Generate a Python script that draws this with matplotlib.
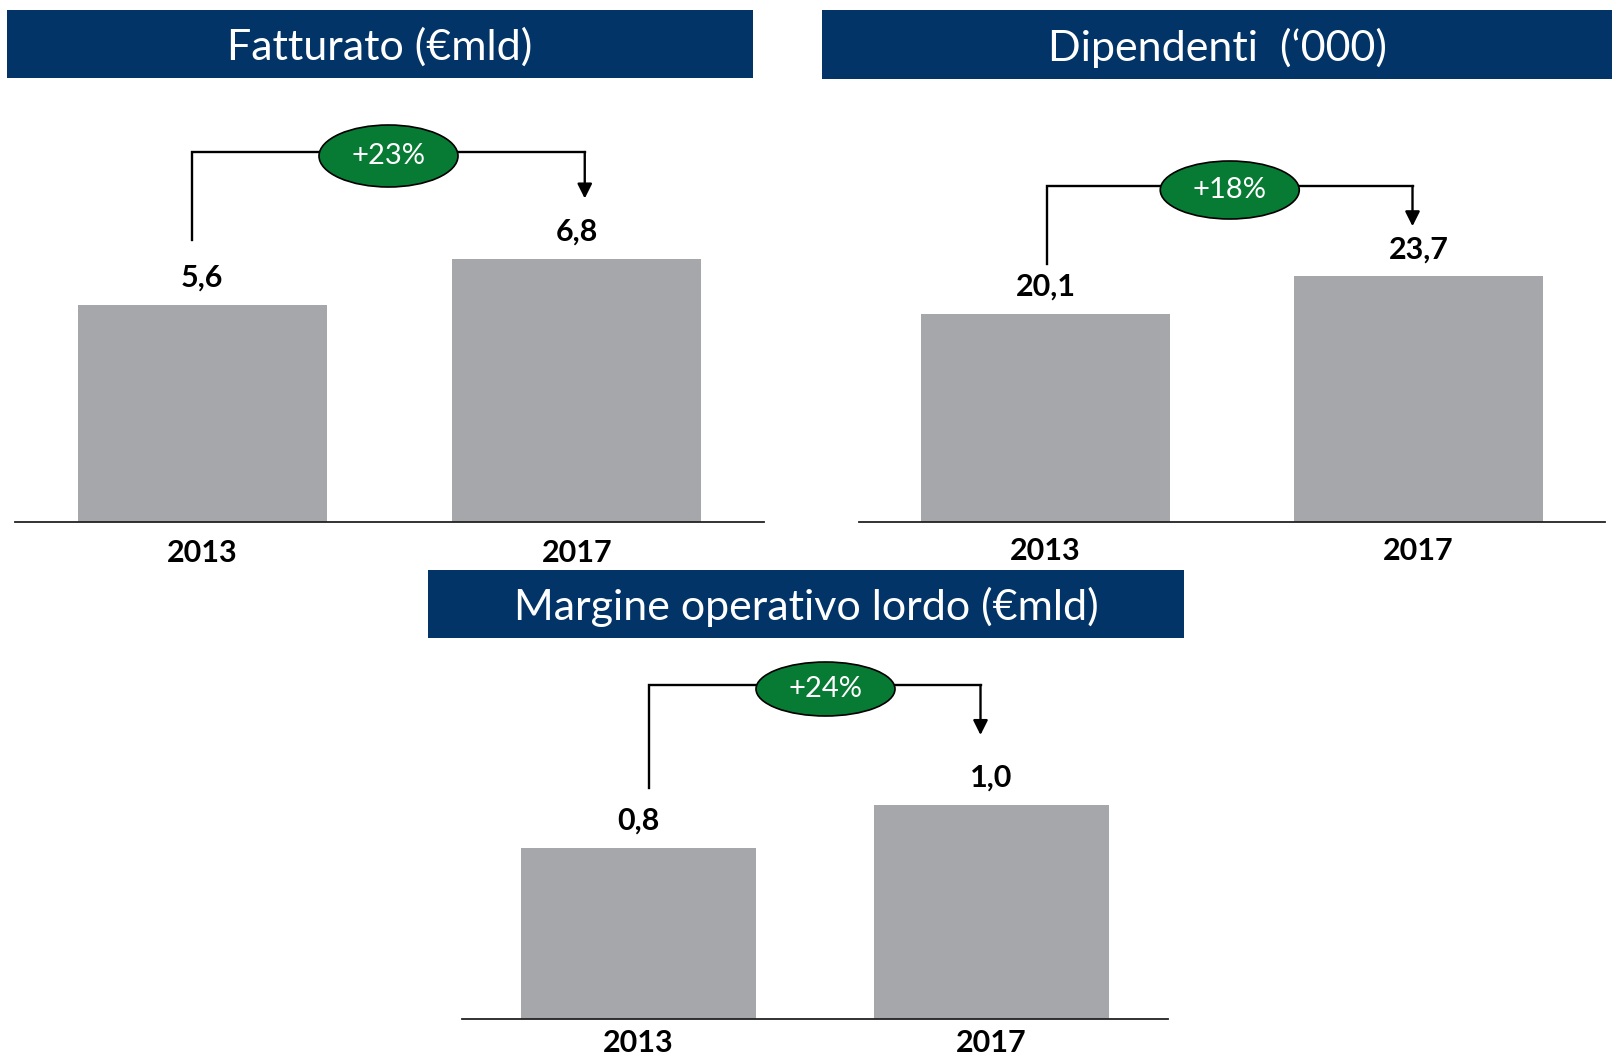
import matplotlib
matplotlib.use('Agg')
import matplotlib.pyplot as plt
from matplotlib.patches import Ellipse, Rectangle
import matplotlib.transforms as mtransforms

plt.rcParams['font.family'] = ['Lato', 'DejaVu Sans']

# ---------------- data ----------------
years = ['2013', '2017']
fatturato = [5.6, 6.8]
dipendenti = [20.1, 23.7]
margine = [0.8, 1.0]
growth_labels = ['+23%', '+18%', '+24%']
titles = ['Fatturato (€mld)', 'Dipendenti  (\u2018000)', 'Margine operativo lordo (€mld)']

# ---------------- layout (pixels, origin top-left) ----------------
W, H = 1612, 1060
DPI = 100
NAVY = '#023467'
GREY = '#A6A7AB'
GREEN = '#077A33'

layouts = [
    dict(values=fatturato, banner=(7, 10, 753, 78), axes=(15, 100, 764, 522), ppu=38.75,
         ldx=-10, rdx=8, lgap=65, rgap=60, top=370, eh=62, edx=0, pad=12),
    dict(values=dipendenti, banner=(822, 10, 1612, 79), axes=(859, 100, 1605, 522), ppu=10.37,
         ldx=1.5, rdx=-6, lgap=50, rgap=50, top=336, eh=58, edx=0, pad=11),
    dict(values=margine, banner=(428, 570, 1184, 638), axes=(462, 640, 1168, 1019), ppu=214.0,
         ldx=10, rdx=-11, lgap=60, rgap=70, top=334, eh=54, edx=11, pad=7),
]

fig = plt.figure(figsize=(W / DPI, H / DPI), dpi=DPI)
fig.patch.set_facecolor('white')


def fmt(v):
    return f'{v:.1f}'.replace('.', ',')


for lay, title, glabel in zip(layouts, titles, growth_labels):
    # banner
    x0, y0, x1, y1 = lay['banner']
    fig.patches.append(Rectangle((x0 / W, 1 - y1 / H), (x1 - x0) / W, (y1 - y0) / H,
                                 transform=fig.transFigure, facecolor=NAVY,
                                 edgecolor='none', zorder=0))
    fig.text((x0 + x1) / 2 / W, 1 - ((y0 + y1) / 2 + 3) / H, title, color='white',
             fontsize=31, ha='center', va='center')

    # axes
    l, t, r, b = lay['axes']
    ax = fig.add_axes([l / W, 1 - b / H, (r - l) / W, (b - t) / H])
    ppu = lay['ppu']
    xspan = (r - l) / 2.0  # px per x-unit
    ax.set_xlim(-0.5, 1.5)
    ax.set_ylim(0, (b - t) / ppu)
    vals = lay['values']
    xs = list(range(len(years)))
    ax.bar(xs, vals, width=0.665, color=GREY, zorder=2)
    for s in ['top', 'right', 'left']:
        ax.spines[s].set_visible(False)
    ax.spines['bottom'].set_color('#222222')
    ax.spines['bottom'].set_linewidth(1.3)
    ax.set_yticks([])
    ax.set_xticks(xs)
    ax.set_xticklabels(years, fontsize=22, fontweight='bold')
    ax.tick_params(axis='x', length=0, pad=lay['pad'])
    ax.patch.set_alpha(0)

    for x, v in zip(xs, vals):
        ax.annotate(fmt(v), (x, v), xytext=(0, 13), textcoords='offset points',
                    ha='center', va='baseline', fontsize=22, fontweight='bold')

    # bracket
    xl = 0 + lay['ldx'] / xspan
    xr = 1 + lay['rdx'] / xspan
    yl = vals[0] + lay['lgap'] / ppu
    yr = vals[1] + lay['rgap'] / ppu
    ytop = lay['top'] / ppu
    ax.plot([xl, xl, xr, xr], [yl, ytop, ytop, ytop], color='black', lw=1.7,
            solid_joinstyle='miter', clip_on=False, zorder=3)
    ax.annotate('', xy=(xr, yr), xytext=(xr, ytop),
                arrowprops=dict(arrowstyle='-|>', mutation_scale=22, lw=1.7,
                                color='black', shrinkA=0, shrinkB=0),
                annotation_clip=False, zorder=3)
    xc = (xl + xr) / 2 + lay['edx'] / xspan
    yc = ytop - 4 / ppu
    tr = fig.dpi_scale_trans + mtransforms.ScaledTranslation(xc, yc, ax.transData)
    ell = Ellipse((0, 0), 1.39, lay['eh'] / DPI, transform=tr, facecolor=GREEN,
                  edgecolor='black', lw=1.2, zorder=4, clip_on=False)
    ax.add_artist(ell)
    ax.text(xc, yc, glabel, color='white', fontsize=21, ha='center', va='center',
            zorder=5, clip_on=False)

fig.savefig('out.png', dpi=DPI, facecolor='white')
